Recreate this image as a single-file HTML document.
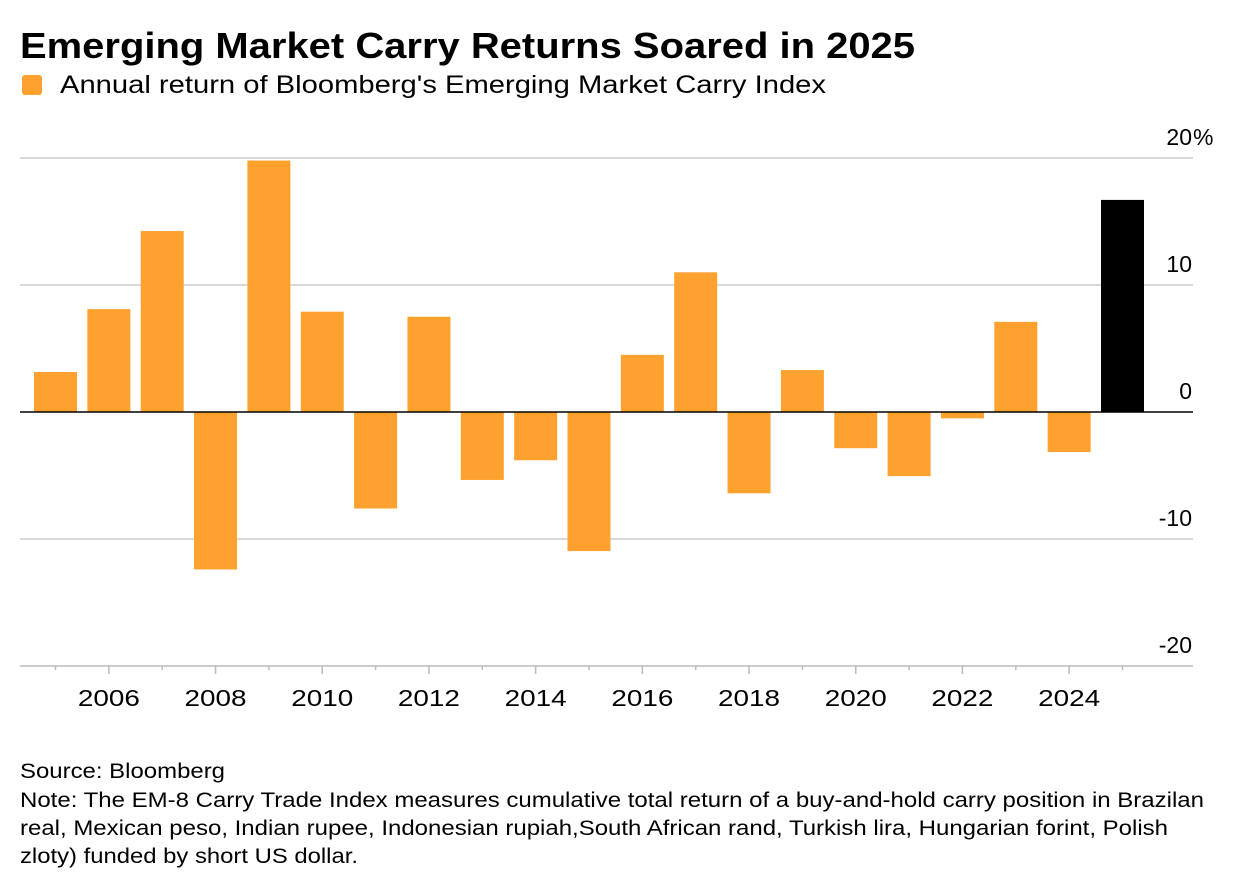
<!DOCTYPE html>
<html><head><meta charset="utf-8"><style>
body{margin:0;background:#fff;width:1236px;height:888px;overflow:hidden;font-family:"Liberation Sans",Arial,sans-serif;}
</style></head><body>
<svg width="1236" height="888" xmlns="http://www.w3.org/2000/svg" font-family="Liberation Sans, Arial, sans-serif">
<text x="20" y="58" font-size="36" font-weight="bold" fill="#000" textLength="895" lengthAdjust="spacingAndGlyphs">Emerging Market Carry Returns Soared in 2025</text>
<rect x="22" y="75" width="20" height="20" rx="3" fill="#ffa12e"/>
<text x="60" y="93" font-size="25" fill="#000" textLength="766" lengthAdjust="spacingAndGlyphs">Annual return of Bloomberg's Emerging Market Carry Index</text>
<g id="grid"></g>
<g id="bars"></g>
<g id="axis"></g>
<text x="20" y="778" font-size="21" fill="#000" textLength="205" lengthAdjust="spacingAndGlyphs">Source: Bloomberg</text>
<text font-size="21" fill="#000" lengthAdjust="spacingAndGlyphs">
<tspan x="20" y="807" textLength="1184" lengthAdjust="spacingAndGlyphs">Note: The EM-8 Carry Trade Index measures cumulative total return of a buy-and-hold carry position in Brazilan</tspan>
<tspan x="20" y="835" textLength="1148" lengthAdjust="spacingAndGlyphs">real, Mexican peso, Indian rupee, Indonesian rupiah,South African rand, Turkish lira, Hungarian forint, Polish</tspan>
<tspan x="20" y="863" textLength="338" lengthAdjust="spacingAndGlyphs">zloty) funded by short US dollar.</tspan>
</text>
</svg>
<script>
const years=[2005,2006,2007,2008,2009,2010,2011,2012,2013,2014,2015,2016,2017,2018,2019,2020,2021,2022,2023,2024,2025];
const values=[3.15,8.1,14.25,-12.4,19.8,7.9,-7.6,7.5,-5.35,-3.8,-10.95,4.5,11.0,-6.4,3.3,-2.85,-5.05,-0.5,7.1,-3.15,16.7];
const yTicks=[20,10,0,-10,-20];
const yTickLabels=["20","10","0","-10","-20"];
const NS="http://www.w3.org/2000/svg";
const y=v=>412-v*12.7;
const x=yr=>55.5+(yr-2005)*53.35;
function mk(t,a,p){const e=document.createElementNS(NS,t);for(const k in a)e.setAttribute(k,a[k]);p.appendChild(e);return e;}
const grid=document.getElementById('grid'),bars=document.getElementById('bars'),axis=document.getElementById('axis');
yTicks.forEach((v,i)=>{
  if(v!==0&&v!==-20){const l=mk('line',{x1:20,x2:1193,y1:y(v),y2:y(v),stroke:'#ccc','stroke-width':1.5},grid);
  
  }
  const t=mk('text',{x:1192,y:y(v)-13,'text-anchor':'end','font-size':23,fill:'#000'},grid);
  t.textContent=yTickLabels[i];
  
  
  if(i===0){const p=mk('text',{x:1193,y:y(v)-13,'font-size':23,fill:'#000'},grid);
  p.textContent='%';
  
  }
});
years.forEach((yr,i)=>{
  const v=values[i];
  const r=mk('rect',{x:x(yr)-21.5,width:43,y:Math.min(y(v),y(0)),height:Math.abs(y(v)-y(0)),fill:yr===2025?'#000':'#ffa12e'},bars);
  
  
  const tk=mk('line',{x1:x(yr),x2:x(yr),y1:666,y2:yr%2===0?674:670,stroke:'#bbb','stroke-width':1.5},axis);
  
  
  if(yr%2===0&&yr<2025){const t=mk('text',{x:x(yr)-31,y:706,'font-size':23,fill:'#000',textLength:62,lengthAdjust:'spacingAndGlyphs'},axis);
  t.textContent=yr;
  
  }
});
const z=mk('line',{x1:20,x2:1193,y1:y(0),y2:y(0),stroke:'#000','stroke-width':1.5},axis);


const b=mk('line',{x1:20,x2:1193,y1:666,y2:666,stroke:'#bbb','stroke-width':1.5},axis);


</script>
</body></html>
